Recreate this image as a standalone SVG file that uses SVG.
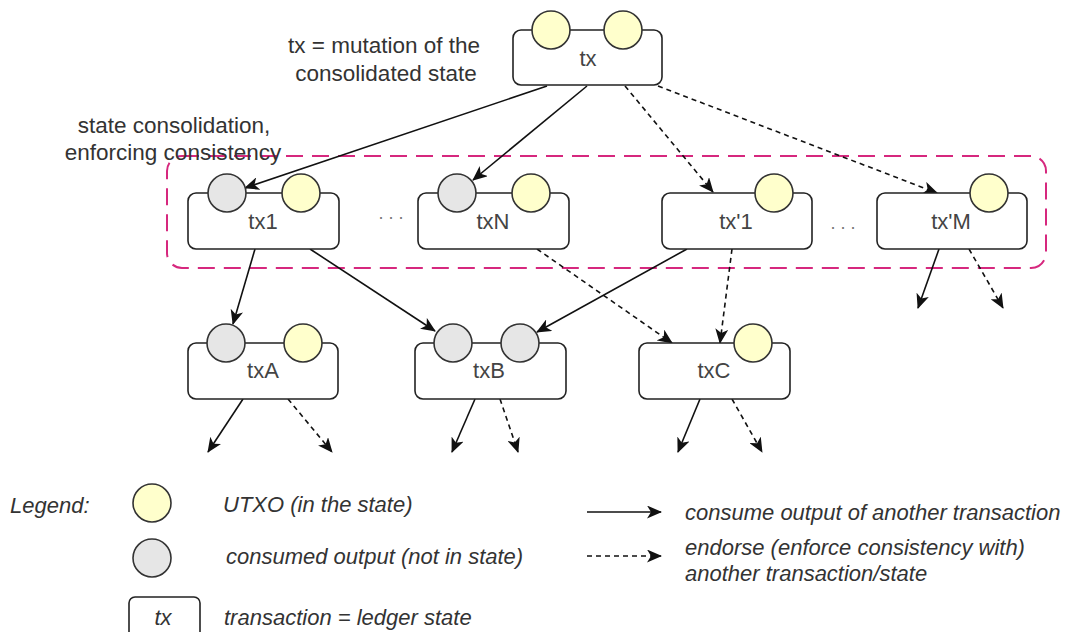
<svg xmlns="http://www.w3.org/2000/svg" width="1071" height="632" viewBox="0 0 1071 632">
<defs>
<style>
.box{fill:#fff;stroke:#222;stroke-width:1.6}
.utxo{fill:#FFFFCC;stroke:#333;stroke-width:1.6}
.used{fill:#E6E6E6;stroke:#333;stroke-width:1.6}
.lbl{font-family:"Liberation Sans",Arial,sans-serif;font-size:22px;fill:#444;text-anchor:middle;dominant-baseline:central}
.note{font-family:"Liberation Sans",Arial,sans-serif;font-size:22.5px;fill:#333;text-anchor:middle}
.leg{font-family:"Liberation Sans",Arial,sans-serif;font-size:22px;fill:#333;font-style:italic}
.dots{font-family:"Liberation Sans",Arial,sans-serif;font-size:18px;fill:#777;text-anchor:middle}
.c{fill:none;stroke:#111;stroke-width:1.6;marker-end:url(#ah)}
.d{fill:none;stroke:#111;stroke-width:1.6;stroke-dasharray:5 4;marker-end:url(#ah)}
.grp{fill:none;stroke:#D6287E;stroke-width:2;stroke-dasharray:17 9}
</style>
<marker id="ah" viewBox="0 0 15 13" refX="14" refY="6.5" markerWidth="15" markerHeight="13" markerUnits="userSpaceOnUse" orient="auto">
<path d="M0,0 L15,6.5 L0,13 L4,6.5 Z" fill="#111"/>
</marker>
</defs>
<rect width="1071" height="632" fill="#fff"/>

<g id="consolidation-group">
<rect class="grp" x="167" y="156" width="879" height="112" rx="15"/>
</g>

<g id="notes">
<text class="note" x="384" y="53">tx = mutation of the</text>
<text class="note" x="386" y="81">consolidated state</text>
<text class="note" x="174" y="133">state consolidation,</text>
<text class="note" x="173" y="160">enforcing consistency</text>
<text class="dots" x="391" y="219">. . .</text>
<text class="dots" x="843" y="229">. . .</text>
</g>

<g id="connectors">
<line class="c" x1="547" y1="86" x2="245" y2="188"/>
<line class="c" x1="587" y1="86" x2="473" y2="180"/>
<line class="d" x1="625" y1="86" x2="713" y2="192"/>
<line class="d" x1="658" y1="86" x2="937" y2="193"/>
<line class="c" x1="255" y1="249" x2="233" y2="324"/>
<line class="c" x1="310" y1="249" x2="435" y2="331"/>
<line class="c" x1="687" y1="249" x2="537" y2="332"/>
<line class="d" x1="537" y1="249" x2="672" y2="343"/>
<line class="d" x1="732" y1="249" x2="720" y2="343"/>
<line class="c" x1="939" y1="249" x2="918" y2="308"/>
<line class="d" x1="969" y1="249" x2="1003" y2="308"/>
<line class="c" x1="243" y1="399" x2="208" y2="452"/>
<line class="d" x1="288" y1="399" x2="332" y2="452"/>
<line class="c" x1="475" y1="399" x2="452" y2="452"/>
<line class="d" x1="500" y1="399" x2="518" y2="452"/>
<line class="c" x1="700" y1="399" x2="678" y2="452"/>
<line class="d" x1="732" y1="399" x2="762" y2="452"/>
</g>

<g id="tx">
<rect class="box" x="513" y="30" width="149" height="55" rx="8"/>
<circle class="utxo" cx="551" cy="30" r="19"/>
<circle class="utxo" cx="623" cy="30" r="19"/>
<text class="lbl" x="588" y="58">tx</text>
</g>

<g id="tx1">
<rect class="box" x="188" y="193" width="151" height="56" rx="8"/>
<circle class="used" cx="227" cy="193" r="19"/>
<circle class="utxo" cx="301" cy="193" r="19"/>
<text class="lbl" x="263" y="221">tx1</text>
</g>

<g id="txN">
<rect class="box" x="418" y="193" width="151" height="56" rx="8"/>
<circle class="used" cx="457" cy="193" r="19"/>
<circle class="utxo" cx="531" cy="193" r="19"/>
<text class="lbl" x="493" y="221">txN</text>
</g>

<g id="tx-1">
<rect class="box" x="662" y="193" width="150" height="56" rx="8"/>
<circle class="utxo" cx="774" cy="193" r="19"/>
<text class="lbl" x="736" y="221">tx'1</text>
</g>

<g id="tx-M">
<rect class="box" x="877" y="193" width="150" height="56" rx="8"/>
<circle class="utxo" cx="989" cy="193" r="19"/>
<text class="lbl" x="951" y="221">tx'M</text>
</g>

<g id="txA">
<rect class="box" x="188" y="343" width="150" height="56" rx="8"/>
<circle class="used" cx="226" cy="343" r="19"/>
<circle class="utxo" cx="303" cy="343" r="19"/>
<text class="lbl" x="263" y="370">txA</text>
</g>

<g id="txB">
<rect class="box" x="415" y="343" width="151" height="56" rx="8"/>
<circle class="used" cx="453" cy="343" r="19"/>
<circle class="used" cx="520" cy="343" r="19"/>
<text class="lbl" x="489" y="370">txB</text>
</g>

<g id="txC">
<rect class="box" x="639" y="343" width="151" height="56" rx="8"/>
<circle class="utxo" cx="753" cy="343" r="19"/>
<text class="lbl" x="714" y="370">txC</text>
</g>

<g id="legend">
<text class="leg" x="10" y="513">Legend:</text>
<circle class="utxo" cx="152" cy="503" r="19"/>
<text class="leg" x="223" y="512">UTXO (in the state)</text>
<circle class="used" cx="152" cy="558" r="19"/>
<text class="leg" x="226" y="564">consumed output (not in state)</text>
<rect class="box" x="129" y="597" width="71" height="50" rx="6"/>
<text class="leg" x="163" y="625" text-anchor="middle">tx</text>
<text class="leg" x="224" y="625">transaction = ledger state</text>
<line class="c" x1="587" y1="512" x2="661" y2="512" stroke-width="2"/>
<line class="d" x1="587" y1="556" x2="661" y2="556" stroke-width="2"/>
<text class="leg" x="685" y="520">consume output of another transaction</text>
<text class="leg" x="685" y="555">endorse (enforce consistency with)</text>
<text class="leg" x="685" y="581">another transaction/state</text>
</g>
</svg>
